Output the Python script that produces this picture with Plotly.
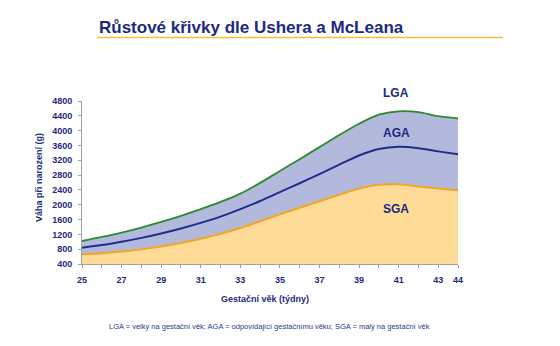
import plotly.graph_objects as go

weeks = [25, 26, 27, 28, 29, 30, 31, 32, 33, 34, 35, 36, 37, 38, 39, 40, 41, 42, 43, 44]
lga = [1020, 1130, 1250, 1385, 1535, 1700, 1880, 2075, 2300, 2590, 2910, 3230, 3555, 3880, 4185, 4430, 4520, 4500, 4390, 4330]
aga = [840, 910, 1000, 1105, 1225, 1360, 1510, 1680, 1880, 2100, 2340, 2580, 2825, 3080, 3330, 3505, 3565, 3525, 3440, 3360]
sga = [655, 690, 735, 795, 870, 965, 1080, 1215, 1370, 1555, 1740, 1920, 2095, 2270, 2435, 2540, 2550, 2495, 2440, 2390]

x_ticks = [25, 27, 29, 31, 33, 35, 37, 39, 41, 43, 44]
y_ticks = [400, 800, 1200, 1600, 2000, 2400, 2800, 3200, 3600, 4000, 4400, 4800]

NAVY = "#1F2A7C"
FONT = "Liberation Sans"

fig = go.Figure()
fig.add_trace(go.Scatter(x=weeks, y=sga, mode="lines",
                         line=dict(color="#F2A626", width=2, shape="spline", smoothing=0.8),
                         fill="tozeroy", fillcolor="#FEDB97", hoverinfo="skip"))
fig.add_trace(go.Scatter(x=weeks, y=lga, mode="lines",
                         line=dict(color="#2B8A2B", width=1.8, shape="spline", smoothing=0.8),
                         fill="tonexty", fillcolor="#B3B9DC", hoverinfo="skip"))
fig.add_trace(go.Scatter(x=weeks, y=aga, mode="lines",
                         line=dict(color="#1F2D8A", width=2, shape="spline", smoothing=0.8),
                         hoverinfo="skip"))

L, R, T, B = 82, 102, 101, 82
pw = 560 - L - R
ph = 346 - T - B


def px(x):
    return (x - L) / pw


def py(y):
    return (346 - B - y) / ph


fig.update_layout(
    width=560, height=346,
    margin=dict(l=L, r=R, t=T, b=B),
    paper_bgcolor="white", plot_bgcolor="white",
    showlegend=False,
    font=dict(family=FONT, color=NAVY),
    xaxis=dict(range=[25, 44], tickmode="array", tickvals=x_ticks, ticktext=[str(v) for v in x_ticks],
               showgrid=False, zeroline=False, showline=True, linecolor="#A0A0A0", linewidth=1,
               ticks="outside", ticklen=3, tickcolor="#A0A0A0",
               minor=dict(tickmode="linear", tick0=25, dtick=1, ticks="outside", ticklen=3, tickcolor="#A0A0A0"),
               tickfont=dict(size=9, color=NAVY, family=FONT, weight="bold"), ticklabelstandoff=4),
    yaxis=dict(range=[400, 4800], tickmode="array", tickvals=y_ticks, ticktext=[str(v) for v in y_ticks],
               showgrid=False, zeroline=False, showline=True, linecolor="#A0A0A0", linewidth=1,
               ticks="outside", ticklen=3, tickcolor="#A0A0A0",
               tickfont=dict(size=9, color=NAVY, family=FONT, weight="bold"), ticklabelstandoff=4),
)

ann = []
ann.append(dict(text="Růstové křivky dle Ushera a McLeana", xref="paper", yref="paper", x=px(97), y=py(27),
                xanchor="left", yanchor="middle", showarrow=False,
                font=dict(size=17, family=FONT, weight="bold", color="#1B2A80")))
ann.append(dict(text="Gestační věk (týdny)", xref="paper", yref="paper", x=px(265), y=py(299),
                xanchor="center", yanchor="middle", showarrow=False,
                font=dict(size=9, family=FONT, weight="bold", color=NAVY)))
ann.append(dict(text="Váha při narození (g)", xref="paper", yref="paper", x=px(39), y=py(178),
                xanchor="center", yanchor="middle", showarrow=False, textangle=-90,
                font=dict(size=9, family=FONT, weight="bold", color=NAVY)))
ann.append(dict(text="LGA = velký na gestační věk; AGA = odpovídající gestačnímu věku; SGA = malý na gestační věk",
                xref="paper", yref="paper", x=px(269), y=py(326), xanchor="center", yanchor="middle",
                showarrow=False, font=dict(size=7.5, family=FONT, color="#2B3990")))
for lbl, ypx in [("LGA", 93), ("AGA", 133), ("SGA", 209)]:
    ann.append(dict(text=lbl, x=px(396), y=py(ypx), xref="paper", yref="paper", showarrow=False,
                    xanchor="center", yanchor="middle",
                    font=dict(size=12, family=FONT, weight="bold", color="#1B2A80")))
fig.update_layout(annotations=ann)

fig.add_shape(type="line", xref="paper", yref="paper", x0=px(97), x1=px(503), y0=py(37.5), y1=py(37.5),
              line=dict(color="#E8C440", width=1.5))

fig.write_html("out.html")
